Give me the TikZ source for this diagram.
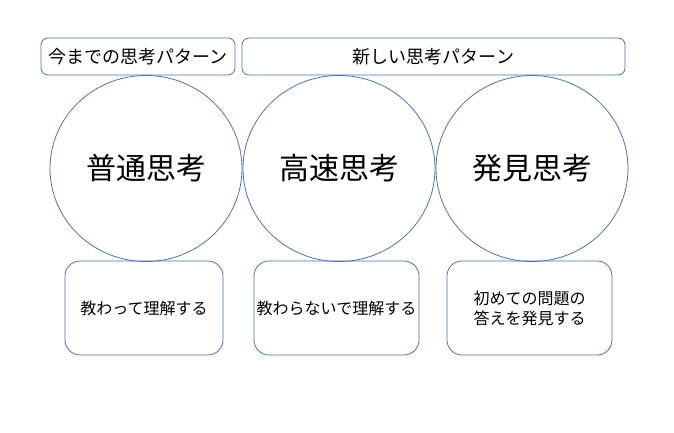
\documentclass[tikz,border=0pt]{standalone}
\usepackage{fontspec}
\setmainfont{Noto Sans CJK JP}
\usetikzlibrary{shapes.geometric,positioning}
\definecolor{frameblue}{HTML}{4A72B0}

\begin{document}
\begin{tikzpicture}[x=1pt, y=-1pt,
  headbox/.style={rectangle, draw=frameblue, line width=0.8pt, rounded corners=7pt, minimum height=37pt, inner sep=0pt, align=center, font=\fontsize{18}{22}\selectfont},
  thinkcircle/.style={ellipse, draw=frameblue, line width=0.8pt, minimum width=192pt, minimum height=186pt, inner sep=0pt, font=\fontsize{30}{36}\selectfont},
  descbox/.style={rectangle, draw=frameblue, line width=0.8pt, rounded corners=15pt, minimum height=94pt, inner sep=0pt, align=center, font=\fontsize{16}{20}\selectfont}
]
  \useasboundingbox (0,0) rectangle (674,433);

  % patterns
  \node[headbox, minimum width=194pt] (oldpat) at (138,56.5) {今までの思考パターン};
  \node[headbox, minimum width=383pt] (newpat) at (433.5,56.5) {新しい思考パターン};

  % ways of thinking
  \node[thinkcircle] (normal) at (146,168.5) {普通思考};
  \node[thinkcircle] (fast) at (339,168.5) {高速思考};
  \node[thinkcircle] (discover) at (532,168.5) {発見思考};

  % descriptions
  \node[descbox, minimum width=158pt] (d1) at (144,308) {教わって理解する};
  \node[descbox, minimum width=165pt] (d2) at (336.5,308) {教わらないで理解する};
  \node[descbox, minimum width=165pt] (d3) at (529.5,308) {初めての問題の\\答えを発見する};
\end{tikzpicture}
\end{document}
